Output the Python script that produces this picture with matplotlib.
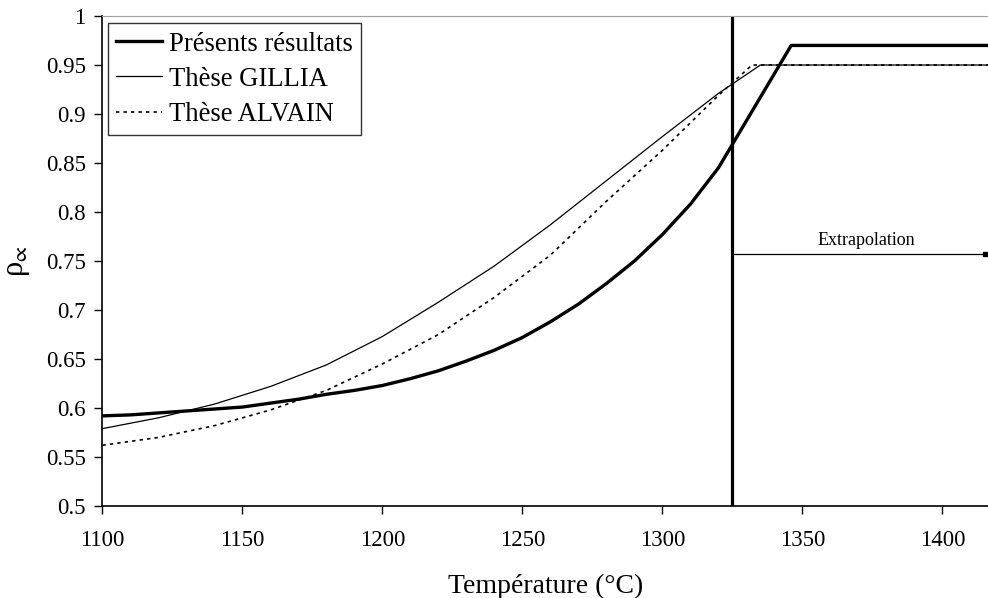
import numpy as np
import matplotlib
matplotlib.use("Agg")
import matplotlib.pyplot as plt

plt.rcParams['font.family'] = ['Liberation Serif', 'DejaVu Serif']
plt.rcParams['mathtext.fontset'] = 'custom'
plt.rcParams['mathtext.rm'] = 'Liberation Serif'
plt.rcParams['mathtext.it'] = 'Liberation Serif:italic'

# Présents résultats
t_present = [1100, 1110, 1120, 1130, 1140, 1150, 1160, 1170, 1180, 1190, 1200,
             1210, 1220, 1230, 1240, 1250, 1260, 1270, 1280, 1290, 1300, 1310,
             1320, 1346, 1420]
rho_present = [0.592, 0.593, 0.595, 0.597, 0.599, 0.601, 0.605, 0.609, 0.614,
               0.618, 0.623, 0.630, 0.638, 0.648, 0.659, 0.672, 0.688, 0.706,
               0.727, 0.750, 0.777, 0.808, 0.845, 0.970, 0.970]

# Thèse GILLIA
t_gillia = [1100, 1120, 1140, 1160, 1180, 1200, 1220, 1240, 1260, 1280, 1300,
            1320, 1335, 1420]
rho_gillia = [0.579, 0.590, 0.604, 0.622, 0.644, 0.673, 0.708, 0.745, 0.787,
              0.832, 0.877, 0.921, 0.950, 0.950]

# Thèse ALVAIN
t_alvain = [1100, 1120, 1140, 1160, 1180, 1200, 1220, 1240, 1260, 1280, 1300,
            1320, 1332, 1420]
rho_alvain = [0.562, 0.570, 0.582, 0.598, 0.618, 0.645, 0.675, 0.713, 0.756,
              0.811, 0.863, 0.919, 0.950, 0.950]

t_limite = 1325
rho_fleche = 0.757
xmax = 1416.3

fig = plt.figure(figsize=(9.88, 5.98), dpi=100)
ax = fig.add_axes([0.1037, 0.1538, 0.8963, 0.8194])

ax.plot(t_present, rho_present, color='black', lw=2.4, label='Présents résultats')
ax.plot(t_gillia, rho_gillia, color='black', lw=0.9, label='Thèse GILLIA')
ax.plot(t_alvain, rho_alvain, color='black', lw=1.2, linestyle=(0, (2, 2.5)),
        label='Thèse ALVAIN')

ax.axvline(t_limite, color='black', lw=2.3)
ax.plot([t_limite, xmax - 1], [rho_fleche, rho_fleche], color='black', lw=0.9)
ax.plot([xmax - 1.2], [rho_fleche], marker='s', ms=3.5, color='black')
ax.text(1372.7, rho_fleche + 0.005, 'Extrapolation',
        ha='center', va='bottom', fontsize=13)

ax.set_xlim(1100, xmax)
ax.set_ylim(0.5, 1.0)
ax.set_xticks([1100, 1150, 1200, 1250, 1300, 1350, 1400])
ax.set_yticks(np.arange(0.5, 1.001, 0.05))
ax.set_yticklabels(['0.5', '0.55', '0.6', '0.65', '0.7', '0.75', '0.8', '0.85',
                    '0.9', '0.95', '1'])
ax.tick_params(direction='out', length=6, width=1, labelsize=16.5)
ax.tick_params(axis='x', pad=11)
ax.tick_params(axis='y', pad=6)

ax.spines['right'].set_visible(False)
ax.spines['top'].set_color('#a0a0a0')
ax.spines['left'].set_linewidth(1.2)
ax.spines['bottom'].set_linewidth(1.2)

ax.set_xlabel('Température (°C)', fontsize=20, labelpad=17)
ax.set_ylabel(r'$\mathrm{ρ}_{∝}$', fontsize=22, labelpad=10)

leg = ax.legend(loc='upper left', bbox_to_anchor=(0.0062, 0.9857), fontsize=19.2,
                frameon=True, fancybox=False, edgecolor='black',
                handlelength=1.72, handletextpad=0.25, borderpad=0.32,
                labelspacing=0.38, borderaxespad=0)
leg.get_frame().set_linewidth(1.0)

fig.savefig('out.png', dpi=100)
